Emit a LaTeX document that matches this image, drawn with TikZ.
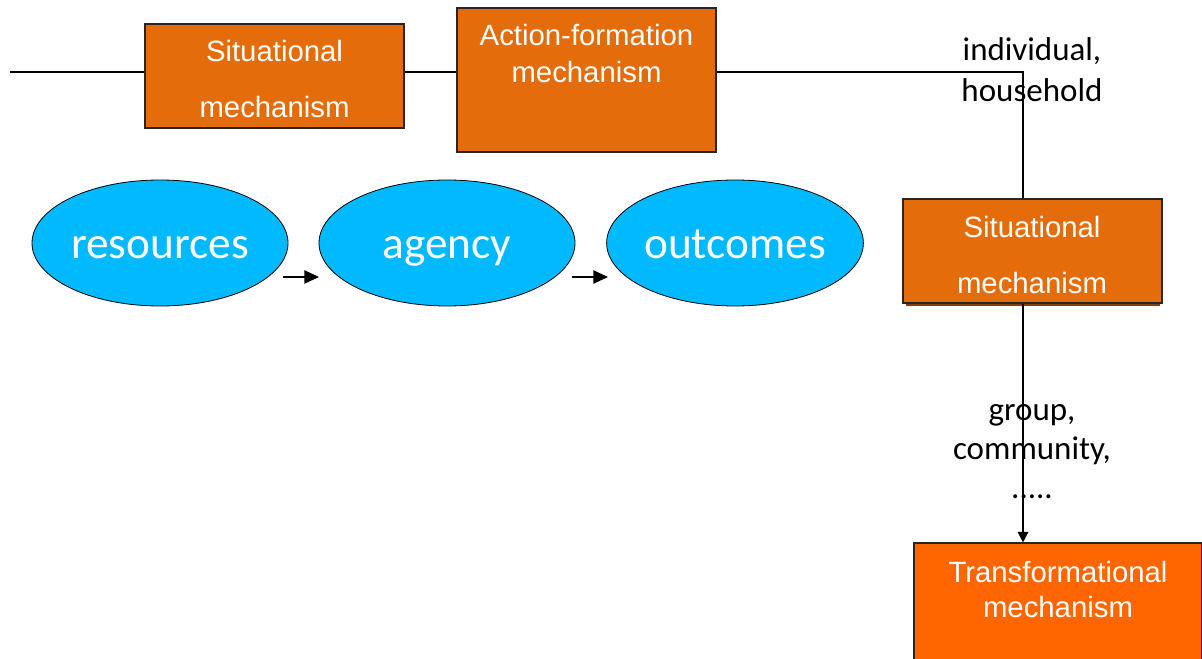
\documentclass[tikz,border=0pt]{standalone}
\usepackage{fontspec}
\setmainfont{Liberation Sans}
\newfontfamily\calib{Carlito}
\usetikzlibrary{arrows.meta,shapes.geometric}
\definecolor{boxorange}{HTML}{E46C0A}
\definecolor{brightorange}{HTML}{FF6600}
\definecolor{ellblue}{HTML}{00B9FF}
\definecolor{shadowbrown}{HTML}{7F3F0A}
\begin{document}
\begin{tikzpicture}[x=0.75pt,y=-0.75pt,
  obox/.style={draw=black!85, line width=0.8pt, fill=boxorange, minimum width=194.25pt, minimum height=78pt, inner sep=0pt},
  btext/.style={text=white, align=center, inner sep=0pt, font=\fontsize{22}{42}\selectfont},
  ell/.style={ellipse, draw=black, line width=0.6pt, fill=ellblue, minimum width=192pt, minimum height=94.5pt, inner sep=0pt, text=white, font=\calib\fontsize{34}{40}\selectfont, text height=22.5pt, text depth=0pt},
  lbl/.style={align=center, inner sep=0pt, font=\calib\fontsize{24.75}{30.75}\selectfont},
  conn/.style={line width=1pt, draw=black},
  tip/.style={-{Triangle[length=11pt,width=10pt]}}
]
\useasboundingbox (0,0) rectangle (1202,659);
\clip (0,0) rectangle (1202,659);

% boxes
\node[obox] (s1) at (274.5,76) {};
\node[obox, minimum height=108pt] (af) at (586.5,80) {};
\fill[shadowbrown] (906,203) rectangle (1160,306);
\node[obox] (s2) at (1032.5,251) {};
\node[obox, fill=brightorange, minimum width=216pt, minimum height=108pt] (tm) at (1058,615) {};

% box texts
\node[btext] (s1t) at (274.5,79) {Situational\\mechanism};
\node[btext, font=\fontsize{22}{27.75}\selectfont] (aft) at (586.5,53.5) {Action-formation\\mechanism};
\node[btext] (s2t) at (1032,255) {Situational\\mechanism};
\node[btext, font=\fontsize{22}{26.25}\selectfont] (tmt) at (1058,590) {Transformational\\mechanism};

% ellipses
\node[ell] (res) at (160,243) {resources};
\node[ell] (agy) at (447,243) {agency};
\node[ell] (out) at (735,243) {outcomes};

% small arrows
\coordinate (a1s) at (283,277);
\coordinate (a1e) at (319,277);
\coordinate (a2s) at (572,277);
\coordinate (a2e) at (608,277);
\draw[conn, tip] (a1s) -- (a1e);
\draw[conn, tip] (a2s) -- (a2e);

% main line
\coordinate (lstart) at (10,72);
\coordinate (corner) at (1023,72);
\draw[conn] (lstart) -- (lstart -| s1.west);
\draw[conn] (s1.east |- lstart) -- (af.west |- lstart);
\draw[conn] (af.east |- lstart) -- (corner) -- (corner |- s2.north);
\draw[conn, -{Triangle[length=8pt,width=8pt]}] (corner |- s2.south) -- (corner |- tm.north);

% labels
\node[lbl] (ind) at (1032,69.5) {individual,\\household};
\node[lbl, font=\calib\fontsize{24.75}{29.25}\selectfont] (grp) at (1032,452) {group,\\community,\\.....};
\end{tikzpicture}
\end{document}
